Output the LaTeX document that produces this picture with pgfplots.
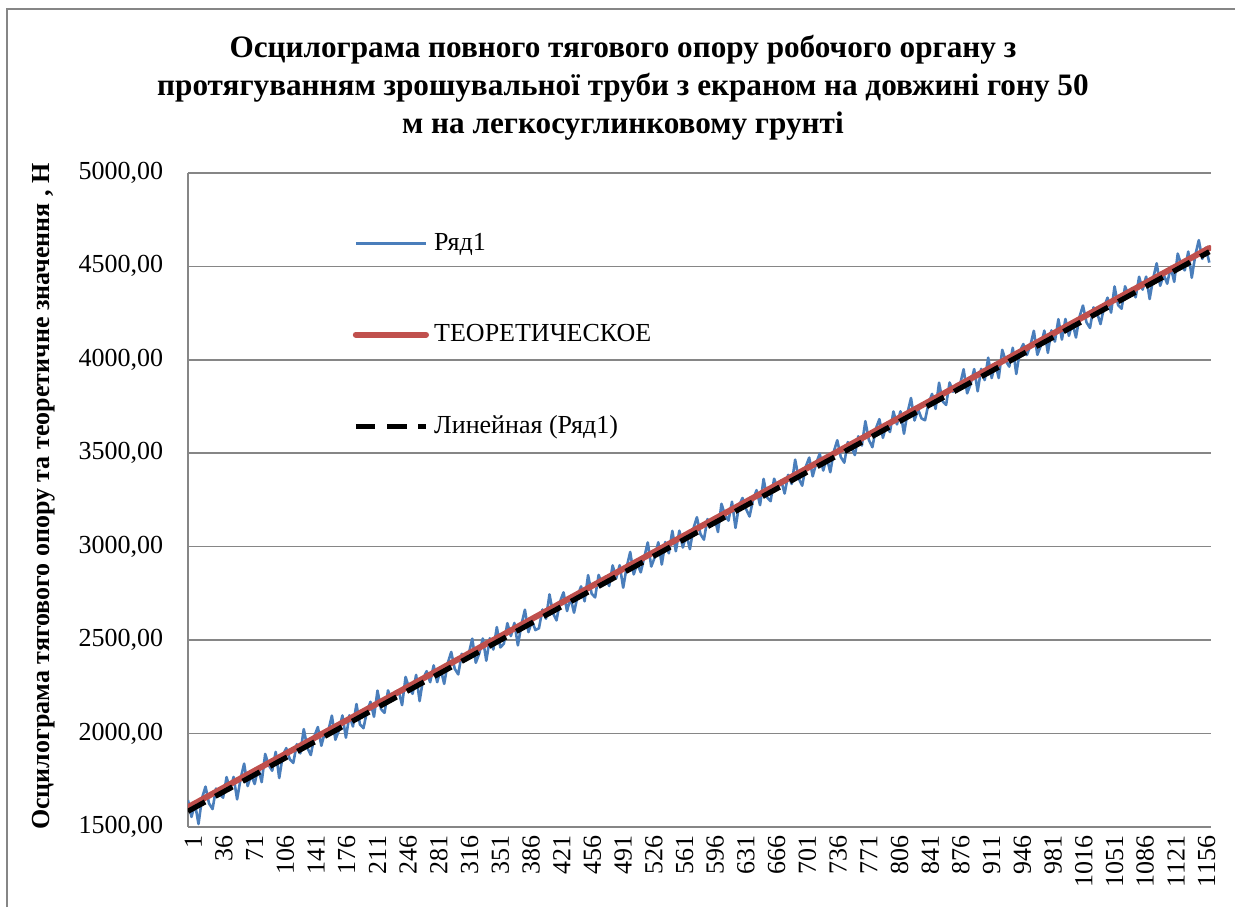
\documentclass[border=0pt]{standalone}
\usepackage{fontspec}
\setmainfont{Liberation Serif}
\usepackage{pgfplots}
\pgfplotsset{compat=1.18}
\definecolor{exblue}{RGB}{74,126,187}
\definecolor{exred}{RGB}{192,80,77}
\definecolor{exgrid}{RGB}{134,134,134}
\begin{document}
\begin{tikzpicture}
\path[use as bounding box] (0pt,0pt) rectangle (475pt,-348.85pt);
\draw[exgrid,line width=0.8pt] (2.7pt,-348.85pt) -- (2.7pt,-3.5pt) -- (475pt,-3.5pt);
\node[font=\fontsize{12}{14.6}\selectfont\bfseries,align=center] at (239.6pt,-33.6pt)
 {Осцилограма повного тягового опору робочого органу з\\
  протягуванням зрошувальної труби з екраном на довжині гону 50\\
  м на легкосуглинковому грунті};
\node[font=\fontsize{10}{12}\selectfont\bfseries,rotate=90] at (16.8pt,-191pt)
 {Осцилограма тягового опору та теоретичне значення , Н};
\begin{axis}[
  at={(72.3pt,-66.5pt)}, anchor=north west,
  scale only axis, width=393.5pt, height=251.5pt,
  xmin=1, xmax=1167, ymin=1500, ymax=5000,
  ytick={1500,2000,...,5000},
  xtick={1,36,...,1156},
  axis x line*=bottom, axis y line*=left,
  axis line style={exgrid,line width=0.6pt,-},
  ymajorgrids, grid style={exgrid,line width=0.6pt},
  major tick length=0pt,
  /pgf/number format/assume math mode=true,
  /pgf/number format/1000 sep={},
  tick label style={font=\fontsize{10}{12}\selectfont},
  y tick label style={/pgf/number format/fixed,/pgf/number format/fixed zerofill,/pgf/number format/precision=2,/pgf/number format/use comma,/pgf/number format/1000 sep={}},
  yticklabel style={xshift=-6pt},
  x tick label style={rotate=90,anchor=east},
  xticklabel style={yshift=-2pt},
  legend style={draw=none,fill=none,at={(0.153,0.925)},anchor=north west,
    font=\fontsize{10}{12}\selectfont,row sep=23pt,
    /tikz/every even column/.append style={column sep=2pt}},
  legend cell align=left,
  legend image code/.code={\draw[#1] (0pt,0pt) -- (27pt,0pt);},
]
\addplot[exblue,line width=1pt,line join=round] table[x=x,y=y] {
x y
1 1643
5 1553
9 1624
13 1515
17 1654
21 1715
25 1625
29 1595
33 1705
37 1676
41 1656
45 1766
49 1697
53 1767
57 1647
61 1758
65 1838
69 1718
73 1778
77 1729
81 1819
85 1739
89 1890
93 1830
97 1800
101 1901
105 1761
109 1881
113 1921
117 1862
121 1842
125 1942
129 1893
133 2023
137 1923
141 1884
145 1984
149 2034
153 1934
157 2005
161 2015
165 2095
169 1966
173 2016
177 2096
181 1977
185 2097
189 2037
193 2157
197 2048
201 2028
205 2118
209 2169
213 2089
217 2229
221 2130
225 2110
229 2230
233 2180
237 2221
241 2231
245 2151
249 2302
253 2242
257 2212
261 2313
265 2173
269 2293
273 2333
277 2274
281 2364
285 2274
289 2345
293 2265
297 2375
301 2436
305 2346
309 2316
313 2426
317 2397
321 2427
325 2507
329 2378
333 2428
337 2508
341 2389
345 2509
349 2449
353 2569
357 2460
361 2480
365 2590
369 2521
373 2591
377 2471
381 2582
385 2662
389 2542
393 2602
397 2553
401 2563
405 2663
409 2614
413 2744
417 2644
421 2605
425 2705
429 2755
433 2655
437 2726
441 2646
445 2736
449 2787
453 2707
457 2847
461 2748
465 2728
469 2848
473 2798
477 2839
481 2789
485 2899
489 2830
493 2900
497 2780
501 2891
505 2971
509 2851
513 2911
517 2862
521 2942
525 3022
529 2893
533 2943
537 3023
541 2904
545 3024
549 2964
553 3084
557 2975
561 3085
565 2995
569 3066
573 2986
577 3096
581 3157
585 3067
589 3037
593 3147
597 3118
601 3158
605 3078
609 3229
613 3169
617 3139
621 3240
625 3100
629 3220
633 3260
637 3201
641 3161
645 3251
649 3302
653 3222
657 3362
661 3263
665 3243
669 3363
673 3313
677 3354
681 3284
685 3384
689 3335
693 3465
697 3365
701 3326
705 3426
709 3476
713 3376
717 3447
721 3497
725 3407
729 3478
733 3398
737 3508
741 3569
745 3479
749 3449
753 3559
757 3530
761 3490
765 3590
769 3541
773 3671
777 3571
781 3532
785 3632
789 3682
793 3582
797 3653
801 3613
805 3723
809 3654
813 3724
817 3604
821 3715
825 3795
829 3675
833 3735
837 3686
841 3676
845 3766
849 3817
853 3737
857 3877
861 3778
865 3758
869 3878
873 3828
877 3869
881 3869
885 3949
889 3820
893 3870
897 3950
901 3831
905 3951
909 3891
913 4011
917 3902
921 3982
925 3902
929 4053
933 3993
937 3963
941 4064
945 3924
949 4044
953 4084
957 4025
961 4075
965 4155
969 4026
973 4076
977 4156
981 4037
985 4157
989 4097
993 4217
997 4108
1001 4218
1005 4128
1009 4199
1013 4119
1017 4229
1021 4290
1025 4200
1029 4170
1033 4280
1037 4251
1041 4191
1045 4281
1049 4332
1053 4252
1057 4392
1061 4293
1065 4273
1069 4393
1073 4343
1077 4384
1081 4334
1085 4444
1089 4375
1093 4445
1097 4325
1101 4436
1105 4516
1109 4396
1113 4456
1117 4407
1121 4497
1125 4417
1129 4568
1133 4508
1137 4478
1141 4579
1145 4439
1149 4559
1153 4640
1157 4540
1161 4600
1165 4520
};
\addlegendentry{Ряд1}
\addplot[exred,line width=2.3pt,line cap=round] coordinates {(1,1605) (1165,4598)};
\addlegendentry{ТЕОРЕТИЧЕСКОЕ}
\addplot[black,line width=2pt,dash pattern=on 7.5pt off 4.5pt] coordinates {(1,1583) (1165,4578)};
\addlegendentry{Линейная (Ряд1)}
\end{axis}
\end{tikzpicture}
\end{document}
